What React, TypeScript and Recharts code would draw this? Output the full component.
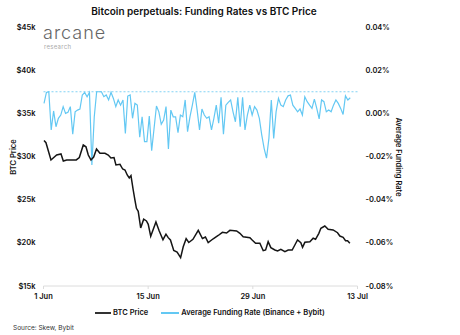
import React from "react";
import {
  LineChart,
  Line,
  XAxis,
  YAxis,
  ReferenceLine,
} from "recharts";

const FONT = "Inter, 'Open Sans', sans-serif";
const CYAN = "#63c8f3";
const BLACK = "#151515";

// x axis: days since 1 Jun
const xTicks = [0, 14, 28, 42];
const xTickLabels = ["1 Jun", "15 Jun", "29 Jun", "13 Jul"];

const priceTicks = [15000, 20000, 25000, 30000, 35000, 40000, 45000];
const rateTicks = [-0.08, -0.06, -0.04, -0.02, 0, 0.02, 0.04];

// BTC price: [day, price]
const btcDays = [
  0.07, 0.33, 1.0, 1.76, 2.34, 2.65, 3.1, 4.38, 4.79, 5.32, 5.68, 5.99, 6.35,
  6.71, 7.09, 7.55, 8.22, 8.66, 9.02, 9.43, 9.69, 10.23, 10.59, 10.9, 11.2,
  11.47, 11.7, 12.0, 12.23, 12.43, 12.67, 13.0, 13.4, 13.77, 14.01, 14.34,
  15.04, 15.48, 15.98, 16.38, 16.68, 16.98, 17.42, 17.87, 18.34, 18.69, 19.08,
  19.43, 19.99, 20.7, 21.26, 21.66, 22.03, 22.7, 23.37, 23.93, 24.49, 24.93,
  25.83, 26.27, 26.71, 27.61, 27.91, 28.37, 28.94, 29.39, 29.71, 30.05, 30.41,
  30.95, 31.31, 31.75, 32.29, 32.73, 33.26, 33.62, 33.98, 34.42, 34.65, 34.96,
  35.63, 36.07, 36.39, 36.83, 37.1, 37.63, 38.07, 38.74, 39.33, 39.64, 40.08,
  40.4, 40.67, 40.98,
];
const btcPrices = [
  31850, 31600, 29600, 30170, 30290, 29480, 29600, 29600, 29880, 31330, 31130,
  30170, 29600, 29940, 30870, 30370, 30370, 30170, 29830, 29880, 29020, 29100,
  28550, 28440, 27860, 27510, 27780, 26120, 24960, 24000, 23650, 21720, 22740,
  22530, 22150, 20770, 22410, 21370, 20360, 21000, 20600, 20330, 19110, 18940,
  18280, 19550, 20480, 20040, 20410, 21450, 20500, 20680, 20020, 20470, 20850,
  21220, 21140, 21450, 21370, 21100, 20710, 20600, 20330, 19950, 19950, 19090,
  19170, 20130, 19440, 19170, 19050, 19250, 18970, 19170, 19170, 19750, 20330,
  20020, 19480, 20060, 20130, 20530, 20410, 21100, 21680, 21950, 21570, 21490,
  21170, 20790, 20640, 20250, 20250, 19950,
];

// Average funding rate (%), one value per 8h-ish period
const fundingStart = 0.07;
const fundingStep = 0.32;
const fundingRates = [
  0.0046, 0.0097, 0.01, -0.0077, 0.0011, -0.0062, -0.0023, -0.0008, 0.0031, 0,
  0.0005, 0.0031, -0.0097, 0.0007, 0.0015, 0.002, 0.0085, 0.0097, 0.0077,
  0.0097, -0.0239, -0.0016, 0.01, 0.01, 0.01, 0.0077, 0.0085, 0.0062, 0.0097,
  0.0069, 0.0031, 0.0062, 0.0038, 0.0062, -0.0093, 0.008, 0.0085, -0.0023,
  0.0046, 0.0038, -0.0111, -0.0016, -0.0131, -0.0131, -0.0013, -0.0173,
  -0.0069, 0.0034, 0.0007, -0.0051, -0.0031, 0.0031, -0.0165, 0.0015, -0.0016,
  -0.0016, -0.009, -0.0008, -0.0016, 0.0062, -0.0085, -0.0016, 0.0038, 0.0097,
  0.0015, -0.0077, 0.002, -0.0008, -0.0023, -0.0016, -0.0077, -0.0023, 0.0038,
  -0.0046, 0.0074, -0.0097, 0.0038, 0.0051, 0.0062, 0.0007, -0.0039, 0.0074,
  -0.0062, 0.0074, -0.0077, -0.0008, 0.0038, -0.0008, 0.0031, 0.0015, -0.0023,
  -0.01, -0.0162, -0.0208, -0.0116, 0.0062, -0.0116, 0.0007, 0.0069, 0.0038,
  0.0031, 0.0062, 0.0081, 0.0085, 0.0038, 0.0023, 0.0007, 0.002, -0.0008,
  0.0077, 0.0054, 0.0038, 0.0023, 0.0066, 0.0023, -0.0026, 0.0062, 0.0054,
  0.0007, 0.0015, 0.0007, 0.0038, 0.0062, 0.0046, 0.0023, -0.0005, 0.0081,
  0.0062, 0.0072,
];
const fundingBaseline = 0.01;

const btcData = btcDays.map((day, i) => ({ day, price: btcPrices[i] }));
const fundingData = fundingRates.map((rate, i) => ({
  day: +(fundingStart + i * fundingStep).toFixed(3),
  rate,
}));

const tickStyle = { fontFamily: FONT, fontSize: 7.5, fontWeight: 600, fill: "#111" };

export default function App() {
  return (
    <div
      style={{
        position: "absolute",
        left: 0,
        top: 0,
        width: 460,
        height: 335,
        background: "#fff",
        fontFamily: FONT,
        color: "#111",
      }}
    >
      <div
        style={{
          position: "absolute",
          top: 5,
          left: 0,
          width: 408,
          textAlign: "center",
          fontSize: 10,
          fontWeight: 600,
        }}
      >
        Bitcoin perpetuals: Funding Rates vs BTC Price
      </div>
      <div
        style={{
          position: "absolute",
          top: 22,
          left: 43,
          fontSize: 18,
          fontWeight: 300,
          letterSpacing: 1,
          color: "#666",
        }}
      >
        arcane
      </div>
      <div
        style={{
          position: "absolute",
          top: 43,
          left: 44,
          fontSize: 6,
          letterSpacing: 0.3,
          color: "#aaa",
        }}
      >
        research
      </div>

      <LineChart
        width={460}
        height={335}
        margin={{ top: 27, right: 62.5, bottom: 19, left: 0 }}
      >
        <XAxis
          dataKey="day"
          type="number"
          domain={[0, 42]}
          ticks={xTicks}
          tickFormatter={(v: number) => xTickLabels[xTicks.indexOf(v)]}
          stroke="#dcdcdc"
          tickSize={3}
          tickMargin={5}
          tick={tickStyle}
          height={30}
          allowDuplicatedCategory={false}
        />
        <YAxis
          yAxisId="left"
          domain={[15000, 45000]}
          ticks={priceTicks}
          tickFormatter={(v: number) => `$${v / 1000}k`}
          axisLine={false}
          tickLine={false}
          tick={tickStyle}
          width={43.5}
        />
        <YAxis
          yAxisId="right"
          orientation="right"
          domain={[-0.08, 0.04]}
          ticks={rateTicks}
          tickFormatter={(v: number) => `${v.toFixed(2)}%`}
          axisLine={false}
          tickLine={false}
          tick={{ ...tickStyle, textAnchor: "start" }}
          width={40}
        />
        <ReferenceLine
          yAxisId="right"
          y={fundingBaseline}
          stroke={CYAN}
          strokeDasharray="2 2"
          strokeWidth={0.8}
        />
        <Line
          yAxisId="right"
          data={fundingData}
          dataKey="rate"
          stroke={CYAN}
          strokeWidth={1.2}
          dot={false}
          isAnimationActive={false}
          name="Average Funding Rate (Binance + Bybit)"
        />
        <Line
          yAxisId="left"
          data={btcData}
          dataKey="price"
          stroke={BLACK}
          strokeWidth={1.5}
          dot={false}
          isAnimationActive={false}
          name="BTC Price"
        />
      </LineChart>

      <div
        style={{
          position: "absolute",
          left: 13,
          top: 157,
          transform: "translate(-50%, -50%) rotate(-90deg)",
          fontSize: 7.5,
          fontWeight: 600,
          whiteSpace: "nowrap",
        }}
      >
        BTC Price
      </div>
      <div
        style={{
          position: "absolute",
          left: 398,
          top: 157,
          transform: "translate(-50%, -50%) rotate(90deg)",
          fontSize: 7.5,
          fontWeight: 600,
          whiteSpace: "nowrap",
        }}
      >
        Average Funding Rate
      </div>

      <div
        style={{
          position: "absolute",
          top: 308,
          left: 95,
          display: "flex",
          alignItems: "center",
          fontSize: 7.5,
          fontWeight: 600,
          whiteSpace: "nowrap",
        }}
      >
        <span style={{ width: 16, height: 2, background: "#333", marginRight: 2 }} />
        <span>BTC Price</span>
        <span
          style={{ width: 18, height: 2, background: CYAN, marginLeft: 13, marginRight: 2 }}
        />
        <span>Average Funding Rate (Binance + Bybit)</span>
      </div>

      <div
        style={{
          position: "absolute",
          top: 324,
          left: 13,
          fontSize: 6.5,
          color: "#333",
          whiteSpace: "nowrap",
        }}
      >
        Source: Skew, Bybit
      </div>
    </div>
  );
}
